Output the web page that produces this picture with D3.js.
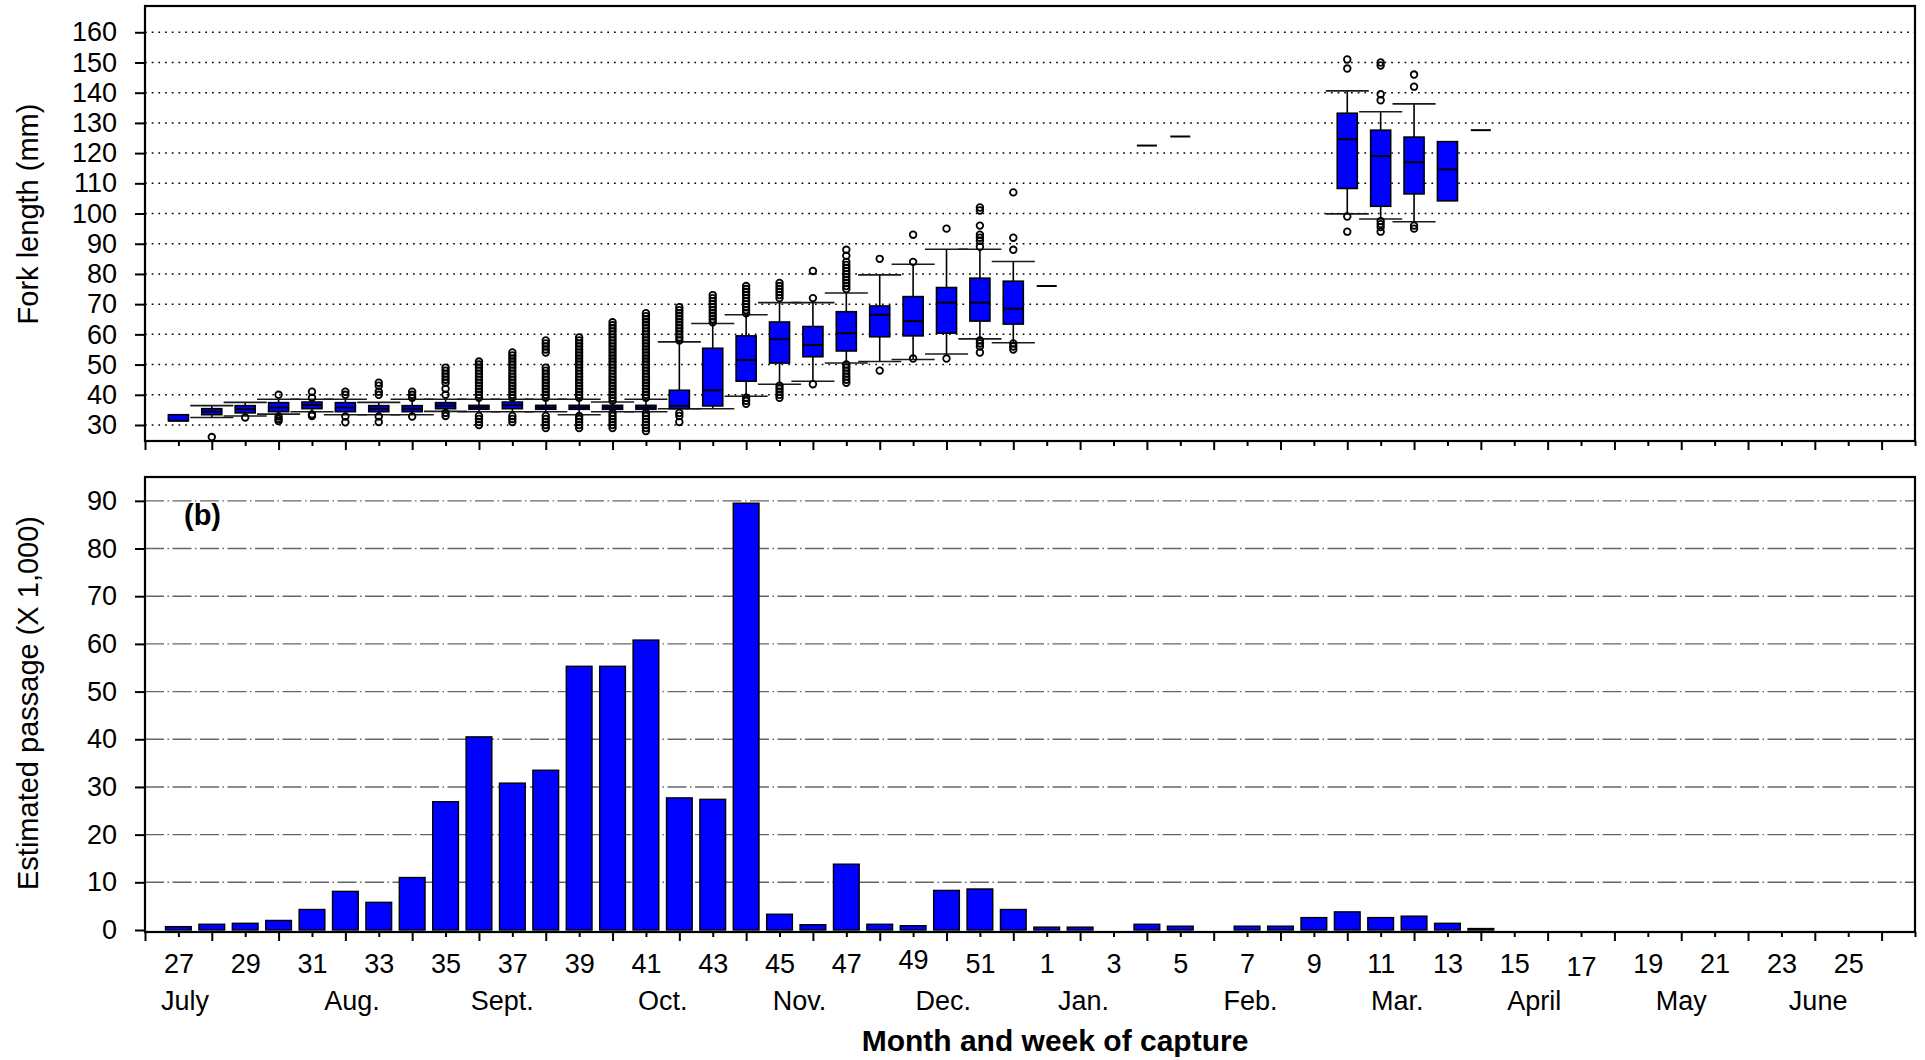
<!DOCTYPE html>
<html>
<head>
<meta charset="utf-8">
<script src="https://cdn.jsdelivr.net/npm/d3@7"></script>
<style>
  html, body { margin: 0; padding: 0; background: #fff; }
  svg { display: block; }
  text { font-family: "Liberation Sans", Arial, Helvetica, sans-serif; fill: #000; }
</style>
</head>
<body>
<svg id="chart" width="1925" height="1060"></svg>
<script>
// ---------- axis categories (season runs from week 26 in July to week 27 the next July) ----------
const weekLabels = [27, 29, 31, 33, 35, 37, 39, 41, 43, 45, 47, 49, 51, 1, 3, 5, 7, 9, 11, 13, 15, 17, 19, 21, 23, 25];
const monthLabels = ["July", "Aug.", "Sept.", "Oct.", "Nov.", "Dec.", "Jan.", "Feb.", "Mar.", "April", "May", "June"];
const monthAt = [1.2, 6.2, 10.7, 15.5, 19.6, 23.9, 28.1, 33.1, 37.5, 41.6, 46.0, 50.1]; // season-week position of each month name
const lengthTicks = [30, 40, 50, 60, 70, 80, 90, 100, 110, 120, 130, 140, 150, 160];
const passageTicks = [0, 10, 20, 30, 40, 50, 60, 70, 80, 90];

// ---------- (a) fork length (mm) by week of capture ----------
const lenWeeks  = [27, 28, 29, 30, 31, 32, 33, 34, 35, 36, 37, 38, 39, 40, 41, 42, 43, 44, 45, 46, 47, 48, 49, 50, 51, 52, 1, 4, 5, 10, 11, 12, 13, 14];
const lenQ1     = [31.4, 33.4, 34.0, 34.4, 35.4, 34.4, 34.4, 34.4, 35.4, 35.2, 35.4, 35.2, 35.2, 35.2, 35.2, 35.4, 36.3, 44.5, 50.5, 52.6, 54.5, 59.2, 59.5, 60.4, 64.4, 63.4, null, null, null, 108.3, 102.4, 106.5, 104.2, null];
const lenMedian = [31.4, 34.4, 35.2, 35.8, 36.6, 35.8, 35.4, 35.4, 36.4, 35.8, 36.5, 35.8, 35.8, 35.8, 35.8, 36.3, 41.5, 51.5, 58.4, 56.5, 60.4, 66.5, 64.4, 70.5, 70.5, 68.5, 76.0, 122.5, 125.5, 124.6, 119.0, 117.0, 114.6, 127.6];
const lenQ3     = [33.4, 35.4, 36.4, 37.4, 37.6, 37.4, 36.4, 36.4, 37.4, 36.5, 37.6, 36.5, 36.5, 36.5, 36.5, 41.5, 55.4, 59.5, 64.1, 62.6, 67.5, 69.4, 72.5, 75.5, 78.6, 77.6, null, null, null, 133.2, 127.6, 125.3, 123.8, null];
const lenLow    = [null, 32.5, 33.0, 33.6, 34.4, 33.4, 33.4, 33.4, 34.5, 34.4, 34.4, 34.4, 33.4, 34.4, 34.4, 35.4, 35.4, 39.5, 43.5, 44.5, 50.5, 51.0, 51.7, 53.5, 58.5, 57.2, null, null, null, 99.9, 98.2, 97.3, null, null];
const lenHigh   = [null, 36.4, 37.5, 38.5, 38.5, 38.5, 37.5, 38.5, 38.5, 38.5, 38.5, 38.5, 38.5, 37.6, 38.5, 57.5, 63.6, 66.5, 70.5, 70.5, 73.7, 79.7, 83.2, 88.2, 88.2, 84.1, null, null, null, 140.6, 133.7, 136.3, null, null];
const lenOutliers = [
  [],
  [26],
  [32.5],
  [40, 32.8, 32, 31.3],
  [39, 41, 33.5, 33],
  [40, 41, 32.8, 30.9],
  [40, 41, 43, 44, 32.8, 31],
  [39, 40, 41, 32.8],
  [40, 42, 44, 45, 46, 47, 48, 49, 33, 34],
  [39, 40, 41, 42, 43, 44, 45, 46, 47, 48, 49, 50, 51, 30, 31, 32, 33],
  [39, 40, 41, 42, 43, 44, 45, 46, 47, 48, 49, 50, 51, 52, 53, 54, 31, 32, 33],
  [39, 40, 41, 42, 43, 44, 45, 46, 47, 48, 49, 54, 55, 56, 57, 58, 29, 30, 31, 32, 33],
  [39, 40, 41, 42, 43, 44, 45, 46, 47, 48, 49, 50, 51, 52, 53, 54, 55, 56, 57, 58, 59, 29, 30, 31, 32, 33],
  [38, 39, 40, 41, 42, 43, 44, 45, 46, 47, 48, 49, 50, 51, 52, 53, 54, 55, 56, 57, 58, 59, 60, 61, 62, 63, 64, 29, 30, 31, 32, 33, 34],
  [39, 40, 41, 42, 43, 44, 45, 46, 47, 48, 49, 50, 51, 52, 53, 54, 55, 56, 57, 58, 59, 60, 61, 62, 63, 64, 65, 66, 67, 28, 29, 30, 31, 32, 33, 34],
  [58, 59, 60, 61, 62, 63, 64, 65, 66, 67, 68, 69, 31, 33, 34],
  [64, 65, 66, 67, 68, 69, 70, 71, 72, 73],
  [67, 68, 69, 70, 71, 72, 73, 74, 75, 76, 37, 38, 39],
  [72, 73, 74, 75, 76, 77, 39, 40, 41, 42, 43],
  [72, 81, 43.5],
  [75, 76, 77, 78, 79, 80, 81, 82, 83, 84, 86, 88, 44, 45, 46, 47, 48, 49, 50],
  [85, 48],
  [93, 84, 52],
  [95, 52],
  [89, 91, 92, 93, 96, 101, 102, 54, 56, 57, 58],
  [107, 92, 88, 55, 56, 57],
  [],
  [],
  [],
  [151, 148, 99, 94],
  [150, 149, 139.5, 137.5, 97.5, 96.5, 95.5, 94],
  [146, 142, 96, 95],
  [],
  []
];

// ---------- (b) estimated passage (x 1,000) by week ----------
const passWeeks = [27, 28, 29, 30, 31, 32, 33, 34, 35, 36, 37, 38, 39, 40, 41, 42, 43, 44, 45, 46, 47, 48, 49, 50, 51, 52, 1, 2, 3, 4, 5, 6, 7, 8, 9, 10, 11, 12, 13, 14];
const passage   = [0.7, 1.2, 1.4, 2.0, 4.3, 8.1, 5.8, 11.0, 26.9, 40.5, 30.8, 33.5, 55.3, 55.3, 60.8, 27.7, 27.4, 89.5, 3.3, 1.1, 13.8, 1.2, 0.9, 8.3, 8.6, 4.3, 0.6, 0.6, 0, 1.2, 0.8, 0, 0.8, 0.8, 2.6, 3.8, 2.6, 2.9, 1.4, 0.3];

// ---------- layout ----------
const svg = d3.select("#chart");
const left = 145, right = 1915;
const topA = 6, bottomA = 441;
const topB = 477, bottomB = 932;
const BLUE = "#0000ff";
const FONT_TICK = 27, FONT_TITLE = 29;
const labelNudge = { 49: -4, 17: 3 };

// week number -> position along the July..June season
const seasonIndex = w => (w >= 26 ? w - 26 : w + 26);

const x = d3.scaleLinear().domain([0, 53]).range([left, right]);
const yA = d3.scaleLinear().domain([24.7, 168.7]).range([bottomA, topA]);
const yB = d3.scaleLinear().domain([-0.42, 95.0]).range([bottomB, topB]);

const step = x(1) - x(0);
const boxW = step * 0.6;
const capW = step * 1.29;
const barW = step * 0.77;

// ---------- panel (a): gridlines ----------
const gA = svg.append("g");
gA.selectAll("line.grid")
  .data(lengthTicks)
  .join("line")
  .attr("x1", left).attr("x2", right)
  .attr("y1", d => yA(d)).attr("y2", d => yA(d))
  .attr("stroke", "#000").attr("stroke-width", 1.5)
  .attr("stroke-dasharray", "1.7,5");

// box plots
const boxes = lenWeeks.map((w, i) => ({
  w, q1: lenQ1[i], med: lenMedian[i], q3: lenQ3[i], lo: lenLow[i], hi: lenHigh[i], out: lenOutliers[i]
}));

const bg = gA.selectAll("g.box").data(boxes).join("g")
  .attr("transform", d => `translate(${x(seasonIndex(d.w))},0)`);

// whiskers
bg.filter(d => d.lo != null).append("line")
  .attr("x1", 0).attr("x2", 0)
  .attr("y1", d => yA(d.lo)).attr("y2", d => yA(d.q1))
  .attr("stroke", "#000").attr("stroke-width", 1.6);
bg.filter(d => d.hi != null).append("line")
  .attr("x1", 0).attr("x2", 0)
  .attr("y1", d => yA(d.hi)).attr("y2", d => yA(d.q3))
  .attr("stroke", "#000").attr("stroke-width", 1.6);
bg.filter(d => d.lo != null).append("line")
  .attr("x1", -capW / 2).attr("x2", capW / 2)
  .attr("y1", d => yA(d.lo)).attr("y2", d => yA(d.lo))
  .attr("stroke", "#1a1a1a").attr("stroke-width", 1.6);
bg.filter(d => d.hi != null).append("line")
  .attr("x1", -capW / 2).attr("x2", capW / 2)
  .attr("y1", d => yA(d.hi)).attr("y2", d => yA(d.hi))
  .attr("stroke", "#1a1a1a").attr("stroke-width", 1.6);

// interquartile box
bg.filter(d => d.q1 != null).append("rect")
  .attr("x", -boxW / 2).attr("width", boxW)
  .attr("y", d => yA(d.q3))
  .attr("height", d => yA(d.q1) - yA(d.q3))
  .attr("fill", BLUE).attr("stroke", "#000").attr("stroke-width", 1.6);

// median
bg.append("line")
  .attr("x1", -boxW / 2).attr("x2", boxW / 2)
  .attr("y1", d => yA(d.med)).attr("y2", d => yA(d.med))
  .attr("stroke", "#000").attr("stroke-width", 2);

// outliers
bg.selectAll("circle").data(d => d.out).join("circle")
  .attr("cx", 0).attr("cy", v => yA(v)).attr("r", 3.3)
  .attr("fill", "none").attr("stroke", "#000").attr("stroke-width", 1.8);

// ---------- panel (b): gridlines and bars ----------
const gB = svg.append("g");
gB.selectAll("line.grid")
  .data(passageTicks.filter(t => t > 0))
  .join("line")
  .attr("x1", left).attr("x2", right)
  .attr("y1", d => yB(d)).attr("y2", d => yB(d))
  .attr("stroke", "#666").attr("stroke-width", 1.4)
  .attr("stroke-dasharray", "19,3.5,1.5,3.5");

const bars = passWeeks.map((w, i) => ({ w, v: passage[i] })).filter(d => d.v > 0);
gB.selectAll("rect.bar").data(bars).join("rect")
  .attr("class", "bar")
  .attr("x", d => x(seasonIndex(d.w)) - barW / 2)
  .attr("width", barW)
  .attr("y", d => yB(d.v))
  .attr("height", d => yB(0) - yB(d.v))
  .attr("fill", BLUE).attr("stroke", "#000").attr("stroke-width", 1.4);

// ---------- frames ----------
[[topA, bottomA], [topB, bottomB]].forEach(([t, b]) => {
  svg.append("rect")
    .attr("x", left).attr("y", t)
    .attr("width", right - left).attr("height", b - t)
    .attr("fill", "none").attr("stroke", "#000").attr("stroke-width", 2.2);
});

// ---------- axes ----------
const majorIdx = d3.range(0, 54, 2);
const minorIdx = d3.range(1, 54, 2);
const labelAt = new Map(weekLabels.map(w => [seasonIndex(w), w]));

function styleAxis(g) {
  g.select(".domain").remove();
  g.selectAll(".tick line").attr("stroke", "#000").attr("stroke-width", 2);
  g.selectAll("text").attr("font-size", FONT_TICK).attr("font-family", null);
}

[bottomA, bottomB].forEach((yPos, k) => {
  svg.append("g").attr("transform", `translate(0,${yPos})`)
    .call(d3.axisBottom(x).tickValues(majorIdx).tickSize(9).tickFormat(""))
    .call(styleAxis);
  const minor = svg.append("g").attr("transform", `translate(0,${yPos})`)
    .call(d3.axisBottom(x).tickValues(minorIdx).tickSize(5).tickPadding(17)
      .tickFormat(i => (k === 1 && labelAt.has(i)) ? labelAt.get(i) : ""))
    .call(styleAxis);
  if (k === 1) {
    minor.selectAll(".tick text")
      .attr("transform", i => `translate(0,${labelNudge[labelAt.get(i)] || 0})`);
  }
});

svg.append("g").attr("transform", `translate(${left},0)`)
  .call(d3.axisLeft(yA).tickValues(lengthTicks).tickSize(10).tickPadding(18))
  .call(styleAxis);
svg.append("g").attr("transform", `translate(${left},0)`)
  .call(d3.axisLeft(yB).tickValues(passageTicks).tickSize(10).tickPadding(18))
  .call(styleAxis);

// month names beneath the week numbers
svg.append("g").selectAll("text").data(monthLabels).join("text")
  .attr("x", (d, i) => x(monthAt[i]))
  .attr("y", 1010)
  .attr("text-anchor", "middle")
  .attr("font-size", FONT_TICK)
  .text(d => d);

// ---------- titles ----------
svg.append("text")
  .attr("transform", "translate(28,214) rotate(-90)")
  .attr("text-anchor", "middle").attr("dy", "0.35em")
  .attr("font-size", FONT_TITLE)
  .text("Fork length (mm)");

svg.append("text")
  .attr("transform", "translate(28,703) rotate(-90)")
  .attr("text-anchor", "middle").attr("dy", "0.35em")
  .attr("font-size", FONT_TITLE)
  .text("Estimated passage (X 1,000)");

svg.append("text")
  .attr("x", 1055).attr("y", 1051)
  .attr("text-anchor", "middle")
  .attr("font-size", 30).attr("font-weight", "bold")
  .text("Month and week of capture");

svg.append("text")
  .attr("x", 184).attr("y", 525)
  .attr("font-size", FONT_TITLE).attr("font-weight", "bold")
  .text("(b)");
</script>
</body>
</html>
